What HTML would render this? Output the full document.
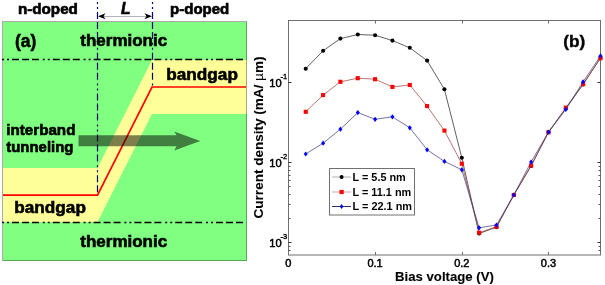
<!DOCTYPE html>
<html><head><meta charset="utf-8"><style>
html,body{margin:0;padding:0;background:#fff;}
svg{display:block;font-family:"Liberation Sans", sans-serif;will-change:transform;}
</style></head><body>
<svg width="605" height="285" viewBox="0 0 605 285">
<rect x="3" y="22" width="244" height="239" fill="#80FF80"/>
<polygon points="3,168 97.5,168 152,60 247,60 247,114 152,114 97.5,222 3,222" fill="#FFFF99"/>
<rect x="2.5" y="21.5" width="244" height="239" fill="none" stroke="#000" stroke-opacity="0.33" stroke-width="1"/>
<polyline points="3,195.2 97.5,195.2 152,87 246,87" fill="none" stroke="#FF0000" stroke-width="1.7"/>
<line x1="2" y1="59.5" x2="246" y2="59.5" stroke="#000" stroke-width="1.5" stroke-dasharray="2 3 2 3 7 3 7 3 7 3.8"/>
<line x1="2" y1="222.5" x2="246" y2="222.5" stroke="#000" stroke-width="1.4" stroke-dasharray="2 3 2 3 7 3 7 3 7 3.8"/>
<line x1="97.5" y1="2" x2="97.5" y2="195" stroke="#000080" stroke-width="1.2" stroke-dasharray="2 3 2 3 7 3 7 3 7 3.8"/>
<line x1="152.5" y1="2" x2="152.5" y2="86" stroke="#000080" stroke-width="1.2" stroke-dasharray="2 3 2 3 7 3 7 3 7 3.8"/>
<line x1="100" y1="16.5" x2="150" y2="16.5" stroke="#b4b4b4" stroke-width="1.2"/>
<polygon points="98,16.3 105.5,13.3 103.5,16.3 105.5,19.3" fill="#000"/>
<polygon points="152,16.3 144.5,13.3 146.5,16.3 144.5,19.3" fill="#000"/>
<text x="17.9" y="14.4" font-size="13.9" font-weight="bold" font-style="normal" stroke="#000" stroke-width="0.6" textLength="60.0" lengthAdjust="spacingAndGlyphs">n-doped</text>
<text x="170.1" y="14.4" font-size="13.9" font-weight="bold" font-style="normal" stroke="#000" stroke-width="0.6" textLength="59.2" lengthAdjust="spacingAndGlyphs">p-doped</text>
<text x="121.1" y="14" font-size="15.6" font-weight="bold" font-style="italic" stroke="#000" stroke-width="0.6" textLength="9.5" lengthAdjust="spacingAndGlyphs">L</text>
<text x="14.9" y="47.0" font-size="17.5" font-weight="bold" font-style="normal" stroke="#000" stroke-width="0.5">(a)</text>
<text x="80.3" y="46" font-size="16.8" font-weight="bold" font-style="normal" stroke="#000" stroke-width="0.6" textLength="86.9" lengthAdjust="spacingAndGlyphs">thermionic</text>
<text x="80.3" y="246.5" font-size="16.8" font-weight="bold" font-style="normal" stroke="#000" stroke-width="0.6" textLength="86.9" lengthAdjust="spacingAndGlyphs">thermionic</text>
<text x="166.3" y="80" font-size="16.6" font-weight="bold" font-style="normal" stroke="#000" stroke-width="0.6" textLength="71.6" lengthAdjust="spacingAndGlyphs">bandgap</text>
<text x="14.3" y="213" font-size="16.6" font-weight="bold" font-style="normal" stroke="#000" stroke-width="0.6" textLength="71.6" lengthAdjust="spacingAndGlyphs">bandgap</text>
<text x="6.3" y="135.2" font-size="14.9" font-weight="bold" font-style="normal" stroke="#000" stroke-width="0.6" textLength="69.1" lengthAdjust="spacingAndGlyphs">interband</text>
<text x="6.3" y="152.4" font-size="14.9" font-weight="bold" font-style="normal" stroke="#000" stroke-width="0.6" textLength="67.1" lengthAdjust="spacingAndGlyphs">tunneling</text>
<polygon points="78.5,135.3 176.5,135.3 174.3,131.5 200.3,141 174.3,150.6 176.5,146.3 78.5,146.3" fill="#000" fill-opacity="0.5"/>
<rect x="288.5" y="20.5" width="312" height="234.5" fill="none" stroke="#6e6e6e" stroke-width="1"/>
<line x1="375.5" y1="255" x2="375.5" y2="252" stroke="#6e6e6e"/>
<line x1="375.5" y1="20.5" x2="375.5" y2="23.5" stroke="#6e6e6e"/>
<line x1="462.5" y1="255" x2="462.5" y2="252" stroke="#6e6e6e"/>
<line x1="462.5" y1="20.5" x2="462.5" y2="23.5" stroke="#6e6e6e"/>
<line x1="548.5" y1="255" x2="548.5" y2="252" stroke="#6e6e6e"/>
<line x1="548.5" y1="20.5" x2="548.5" y2="23.5" stroke="#6e6e6e"/>
<line x1="288.5" y1="82.5" x2="291.5" y2="82.5" stroke="#333"/>
<line x1="600.5" y1="82.5" x2="597.5" y2="82.5" stroke="#333"/>
<line x1="288.5" y1="162.5" x2="291.5" y2="162.5" stroke="#333"/>
<line x1="600.5" y1="162.5" x2="597.5" y2="162.5" stroke="#333"/>
<line x1="288.5" y1="242.5" x2="291.5" y2="242.5" stroke="#333"/>
<line x1="600.5" y1="242.5" x2="597.5" y2="242.5" stroke="#333"/>
<line x1="288.5" y1="218.5" x2="290.5" y2="218.5" stroke="#555"/>
<line x1="600.5" y1="218.5" x2="598.5" y2="218.5" stroke="#555"/>
<line x1="288.5" y1="204.5" x2="290.5" y2="204.5" stroke="#555"/>
<line x1="600.5" y1="204.5" x2="598.5" y2="204.5" stroke="#555"/>
<line x1="288.5" y1="194.5" x2="290.5" y2="194.5" stroke="#555"/>
<line x1="600.5" y1="194.5" x2="598.5" y2="194.5" stroke="#555"/>
<line x1="288.5" y1="186.5" x2="290.5" y2="186.5" stroke="#555"/>
<line x1="600.5" y1="186.5" x2="598.5" y2="186.5" stroke="#555"/>
<line x1="288.5" y1="180.5" x2="290.5" y2="180.5" stroke="#555"/>
<line x1="600.5" y1="180.5" x2="598.5" y2="180.5" stroke="#555"/>
<line x1="288.5" y1="175.5" x2="290.5" y2="175.5" stroke="#555"/>
<line x1="600.5" y1="175.5" x2="598.5" y2="175.5" stroke="#555"/>
<line x1="288.5" y1="170.5" x2="290.5" y2="170.5" stroke="#555"/>
<line x1="600.5" y1="170.5" x2="598.5" y2="170.5" stroke="#555"/>
<line x1="288.5" y1="166.5" x2="290.5" y2="166.5" stroke="#555"/>
<line x1="600.5" y1="166.5" x2="598.5" y2="166.5" stroke="#555"/>
<line x1="288.5" y1="250.5" x2="290.5" y2="250.5" stroke="#555"/>
<line x1="600.5" y1="250.5" x2="598.5" y2="250.5" stroke="#555"/>
<line x1="288.5" y1="246.5" x2="290.5" y2="246.5" stroke="#555"/>
<line x1="600.5" y1="246.5" x2="598.5" y2="246.5" stroke="#555"/>
<text x="288.4" y="267" font-size="11" font-weight="normal" font-style="normal" stroke="#000" stroke-width="0.5" text-anchor="middle">0</text>
<text x="375.1" y="267" font-size="11" font-weight="normal" font-style="normal" stroke="#000" stroke-width="0.5" text-anchor="middle">0.1</text>
<text x="461.8" y="267" font-size="11" font-weight="normal" font-style="normal" stroke="#000" stroke-width="0.5" text-anchor="middle">0.2</text>
<text x="548.5" y="267" font-size="11" font-weight="normal" font-style="normal" stroke="#000" stroke-width="0.5" text-anchor="middle">0.3</text>
<text x="269.3" y="86.7" font-size="11" font-weight="normal" font-style="normal" stroke="#000" stroke-width="0.5" textLength="12.4" lengthAdjust="spacingAndGlyphs">10</text>
<text x="280.6" y="79.4" font-size="7.5" font-weight="normal" font-style="normal" stroke="#000" stroke-width="0.35">-1</text>
<text x="269.3" y="166.70000000000002" font-size="11" font-weight="normal" font-style="normal" stroke="#000" stroke-width="0.5" textLength="12.4" lengthAdjust="spacingAndGlyphs">10</text>
<text x="280.6" y="159.4" font-size="7.5" font-weight="normal" font-style="normal" stroke="#000" stroke-width="0.35">-2</text>
<text x="269.3" y="246.70000000000002" font-size="11" font-weight="normal" font-style="normal" stroke="#000" stroke-width="0.5" textLength="12.4" lengthAdjust="spacingAndGlyphs">10</text>
<text x="280.6" y="239.4" font-size="7.5" font-weight="normal" font-style="normal" stroke="#000" stroke-width="0.35">-3</text>
<text x="395.0" y="280.7" font-size="12.9" font-weight="bold" font-style="normal" stroke="#000" stroke-width="0.1" textLength="98.9" lengthAdjust="spacingAndGlyphs">Bias voltage (V)</text>
<text transform="translate(263.3,137.5) rotate(-90)" font-size="13.4" font-weight="bold" font-style="normal" stroke="#000" stroke-width="0.1" textLength="161.9" lengthAdjust="spacingAndGlyphs" text-anchor="middle">Current density (mA/ <tspan font-weight="normal">&#181;</tspan>m)</text>
<text x="563.3" y="47.1" font-size="17.3" font-weight="bold" font-style="normal" stroke="#000" stroke-width="0.4">(b)</text>
<polyline points="305.7,68.7 323.1,50.8 340.4,38.6 357.8,34.5 375.1,35.2 392.4,40.6 409.8,47.8 427.1,60.6 444.4,89.3 461.8,157.7 479.1,233.5 496.5,227.2 513.8,195 531.1,166 548.5,132 565.8,108.5 583.1,84.5 600.5,57.8" fill="none" stroke="#383838" stroke-width="0.8"/>
<circle cx="305.7" cy="68.7" r="2.05" fill="#000"/>
<circle cx="323.1" cy="50.8" r="2.05" fill="#000"/>
<circle cx="340.4" cy="38.6" r="2.05" fill="#000"/>
<circle cx="357.8" cy="34.5" r="2.05" fill="#000"/>
<circle cx="375.1" cy="35.2" r="2.05" fill="#000"/>
<circle cx="392.4" cy="40.6" r="2.05" fill="#000"/>
<circle cx="409.8" cy="47.8" r="2.05" fill="#000"/>
<circle cx="427.1" cy="60.6" r="2.05" fill="#000"/>
<circle cx="444.4" cy="89.3" r="2.05" fill="#000"/>
<circle cx="461.8" cy="157.7" r="2.05" fill="#000"/>
<circle cx="479.1" cy="233.5" r="2.05" fill="#000"/>
<circle cx="496.5" cy="227.2" r="2.05" fill="#000"/>
<circle cx="513.8" cy="195" r="2.05" fill="#000"/>
<circle cx="531.1" cy="166" r="2.05" fill="#000"/>
<circle cx="548.5" cy="132" r="2.05" fill="#000"/>
<circle cx="565.8" cy="108.5" r="2.05" fill="#000"/>
<circle cx="583.1" cy="84.5" r="2.05" fill="#000"/>
<circle cx="600.5" cy="57.8" r="2.05" fill="#000"/>
<polyline points="305.7,111.8 323.1,95.1 340.4,81.8 357.8,78.2 375.1,79.2 392.4,86.9 409.8,85 427.1,106.1 444.4,130.6 461.8,163.7 479.1,232.7 496.5,226.6 513.8,195 531.1,165.5 548.5,132.3 565.8,107.6 583.1,84.1 600.5,58.3" fill="none" stroke="#a03838" stroke-width="0.7"/>
<rect x="303.69" y="109.75" width="4.1" height="4.1" fill="#FF0000"/>
<rect x="321.03" y="93.05" width="4.1" height="4.1" fill="#FF0000"/>
<rect x="338.36" y="79.75" width="4.1" height="4.1" fill="#FF0000"/>
<rect x="355.70" y="76.15" width="4.1" height="4.1" fill="#FF0000"/>
<rect x="373.04" y="77.15" width="4.1" height="4.1" fill="#FF0000"/>
<rect x="390.38" y="84.85" width="4.1" height="4.1" fill="#FF0000"/>
<rect x="407.72" y="82.95" width="4.1" height="4.1" fill="#FF0000"/>
<rect x="425.05" y="104.05" width="4.1" height="4.1" fill="#FF0000"/>
<rect x="442.39" y="128.55" width="4.1" height="4.1" fill="#FF0000"/>
<rect x="459.73" y="161.65" width="4.1" height="4.1" fill="#FF0000"/>
<rect x="477.07" y="230.65" width="4.1" height="4.1" fill="#FF0000"/>
<rect x="494.41" y="224.55" width="4.1" height="4.1" fill="#FF0000"/>
<rect x="511.74" y="192.95" width="4.1" height="4.1" fill="#FF0000"/>
<rect x="529.08" y="163.45" width="4.1" height="4.1" fill="#FF0000"/>
<rect x="546.42" y="130.25" width="4.1" height="4.1" fill="#FF0000"/>
<rect x="563.76" y="105.55" width="4.1" height="4.1" fill="#FF0000"/>
<rect x="581.10" y="82.05" width="4.1" height="4.1" fill="#FF0000"/>
<rect x="598.43" y="56.25" width="4.1" height="4.1" fill="#FF0000"/>
<polyline points="305.7,154 323.1,143.2 340.4,129.2 357.8,112.6 375.1,119.3 392.4,116.8 409.8,127.8 427.1,149.8 444.4,161.4 461.8,169.8 479.1,227.8 496.5,225 513.8,195 531.1,162 548.5,132.1 565.8,109.4 583.1,81.8 600.5,55.9" fill="none" stroke="#383880" stroke-width="0.7"/>
<polygon points="305.7,151.4 307.7,154 305.7,156.6 303.7,154" fill="#0000FF"/>
<polygon points="323.1,140.6 325.1,143.2 323.1,145.8 321.1,143.2" fill="#0000FF"/>
<polygon points="340.4,126.6 342.4,129.2 340.4,131.8 338.4,129.2" fill="#0000FF"/>
<polygon points="357.8,110.0 359.8,112.6 357.8,115.2 355.8,112.6" fill="#0000FF"/>
<polygon points="375.1,116.7 377.1,119.3 375.1,121.9 373.1,119.3" fill="#0000FF"/>
<polygon points="392.4,114.2 394.4,116.8 392.4,119.4 390.4,116.8" fill="#0000FF"/>
<polygon points="409.8,125.2 411.8,127.8 409.8,130.4 407.8,127.8" fill="#0000FF"/>
<polygon points="427.1,147.2 429.1,149.8 427.1,152.4 425.1,149.8" fill="#0000FF"/>
<polygon points="444.4,158.8 446.4,161.4 444.4,164.0 442.4,161.4" fill="#0000FF"/>
<polygon points="461.8,167.2 463.8,169.8 461.8,172.4 459.8,169.8" fill="#0000FF"/>
<polygon points="479.1,225.2 481.1,227.8 479.1,230.4 477.1,227.8" fill="#0000FF"/>
<polygon points="496.5,222.4 498.5,225 496.5,227.6 494.5,225" fill="#0000FF"/>
<polygon points="513.8,192.4 515.8,195 513.8,197.6 511.8,195" fill="#0000FF"/>
<polygon points="531.1,159.4 533.1,162 531.1,164.6 529.1,162" fill="#0000FF"/>
<polygon points="548.5,129.5 550.5,132.1 548.5,134.7 546.5,132.1" fill="#0000FF"/>
<polygon points="565.8,106.8 567.8,109.4 565.8,112.0 563.8,109.4" fill="#0000FF"/>
<polygon points="583.1,79.2 585.1,81.8 583.1,84.4 581.1,81.8" fill="#0000FF"/>
<polygon points="600.5,53.3 602.5,55.9 600.5,58.5 598.5,55.9" fill="#0000FF"/>
<rect x="329.5" y="168.5" width="85" height="46.5" fill="#fff" stroke="#707070"/>
<line x1="332" y1="177" x2="351" y2="177" stroke="#b0b0b0" stroke-width="1"/>
<circle cx="341.6" cy="177" r="2" fill="#000"/>
<text x="352.5" y="180.6" font-size="10.5" font-weight="bold" font-style="normal" textLength="53.3" lengthAdjust="spacingAndGlyphs">L = 5.5 nm</text>
<line x1="332" y1="192" x2="351" y2="192" stroke="#c0a8a8" stroke-width="1"/>
<rect x="339.5" y="189.9" width="4.2" height="4.2" fill="#F00"/>
<text x="352.5" y="195.6" font-size="10.5" font-weight="bold" font-style="normal" textLength="58.75" lengthAdjust="spacingAndGlyphs">L = 11.1 nm</text>
<line x1="332" y1="206.5" x2="351" y2="206.5" stroke="#303060" stroke-width="1"/>
<polygon points="341.6,203.9 343.40000000000003,206.5 341.6,209.1 339.8,206.5" fill="#00F"/>
<text x="352.5" y="210.1" font-size="10.5" font-weight="bold" font-style="normal" textLength="59.55" lengthAdjust="spacingAndGlyphs">L = 22.1 nm</text>
</svg>
</body></html>
